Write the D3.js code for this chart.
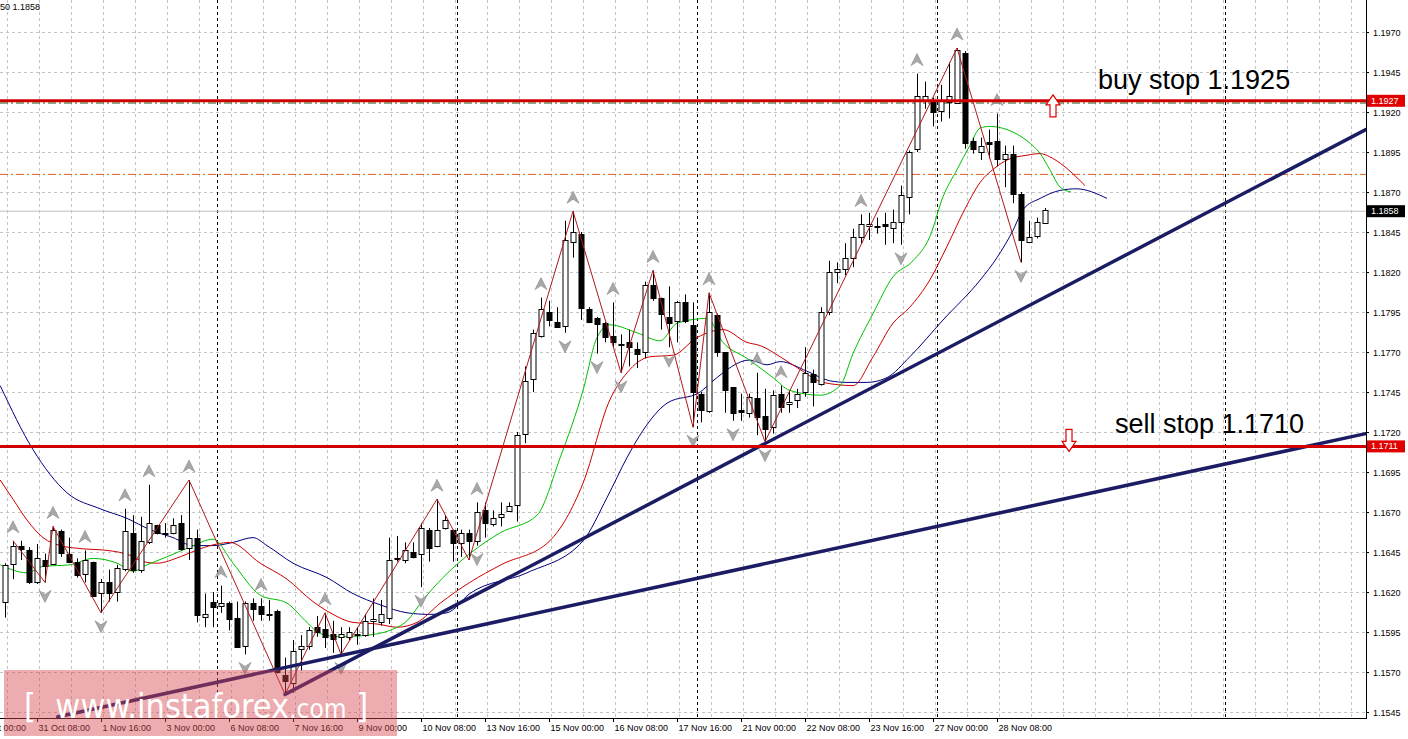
<!DOCTYPE html>
<html>
<head>
<meta charset="utf-8">
<script src="https://cdn.jsdelivr.net/npm/d3@7"></script>
<style>
  html, body { margin: 0; padding: 0; background: #fff; }
  svg { display: block; font-family: "Liberation Sans", Arial, sans-serif; }
</style>
</head>
<body>
<svg id="chart" width="1408" height="739"></svg>
<script>
// candle data (4h bars), index 0 = first visible bar
const opens = [1.1614,1.1638,1.1649,1.1646,1.1626,1.1640,1.1638,1.1658,1.1644,1.1639,1.1631,1.1639,1.1619,1.1626,1.1620,1.1634,1.1657,1.1634,1.1651,1.1662,
  1.1657,1.1657,1.1663,1.1648,1.1654,1.1604,1.1614,1.1611,1.1613,1.1604,1.1586,1.1613,1.1611,1.1606,1.1608,1.1568,1.1563,1.1584,1.1586,1.1598,
  1.1597,1.1594,1.1592,1.1592,1.1594,1.1593,1.1602,1.1601,1.1604,1.1641,1.1640,1.1645,1.1644,1.1659,1.1649,1.1660,1.1659,1.1651,1.1657,1.1652,
  1.1671,1.1662,1.1667,1.1671,1.1674,1.1719,1.1753,1.1780,1.1795,1.1789,1.1786,1.1839,1.1844,1.1797,1.1791,1.1788,1.1780,1.1775,1.1776,1.1772,
  1.1770,1.1812,1.1804,1.1792,1.1789,1.1801,1.1787,1.1744,1.1733,1.1793,1.1770,1.1748,1.1734,1.1732,1.1741,1.1730,1.1723,1.1744,1.1738,1.1740,
  1.1745,1.1756,1.1750,1.1795,1.1820,1.1822,1.1829,1.1842,1.1849,1.1849,1.1850,1.1847,1.1851,1.1867,1.1897,1.1927,1.1926,1.1921,1.1926,1.1926,
  1.1957,1.1902,1.1895,1.1901,1.1902,1.1891,1.1894,1.1869,1.1839,1.1842,1.1851];
const highs = [1.1638,1.1652,1.1652,1.1648,1.1650,1.1644,1.1661,1.1659,1.1654,1.1641,1.1646,1.1639,1.1628,1.1634,1.1637,1.1672,1.1668,1.1667,1.1687,1.1662,
  1.1663,1.1666,1.1668,1.1690,1.1659,1.1619,1.1620,1.1624,1.1614,1.1614,1.1614,1.1616,1.1616,1.1615,1.1609,1.1579,1.1590,1.1593,1.1598,1.1605,
  1.1607,1.1602,1.1598,1.1598,1.1598,1.1606,1.1616,1.1615,1.1654,1.1655,1.1651,1.1651,1.1663,1.1660,1.1678,1.1668,1.1659,1.1659,1.1659,1.1676,
  1.1676,1.1671,1.1676,1.1676,1.1720,1.1761,1.1784,1.1804,1.1802,1.1798,1.1852,1.1858,1.1845,1.1798,1.1792,1.1789,1.1801,1.1781,1.1784,1.1776,
  1.1814,1.1821,1.1804,1.1811,1.1802,1.1806,1.1801,1.1745,1.1807,1.1794,1.1770,1.1748,1.1744,1.1744,1.1757,1.1747,1.1746,1.1749,1.1746,1.1747,
  1.1773,1.1759,1.1798,1.1827,1.1826,1.1838,1.1847,1.1856,1.1857,1.1854,1.1857,1.1859,1.1874,1.1896,1.1944,1.1939,1.1929,1.1937,1.1951,1.1960,
  1.1958,1.1904,1.1904,1.1909,1.1919,1.1899,1.1899,1.1870,1.1852,1.1854,1.1860];
const lows = [1.1604,1.1628,1.1640,1.1625,1.1625,1.1626,1.1637,1.1642,1.1638,1.1629,1.1626,1.1617,1.1607,1.1614,1.1614,1.1633,1.1632,1.1632,1.1650,1.1656,
  1.1654,1.1656,1.1646,1.1640,1.1601,1.1598,1.1598,1.1607,1.1596,1.1585,1.1581,1.1602,1.1602,1.1602,1.1569,1.1556,1.1557,1.1571,1.1584,1.1592,
  1.1585,1.1582,1.1581,1.1590,1.1587,1.1592,1.1592,1.1599,1.1600,1.1639,1.1638,1.1641,1.1623,1.1639,1.1648,1.1659,1.1639,1.1642,1.1640,1.1649,
  1.1654,1.1661,1.1661,1.1670,1.1664,1.1713,1.1745,1.1779,1.1786,1.1785,1.1782,1.1829,1.1790,1.1788,1.1769,1.1776,1.1773,1.1757,1.1761,1.1760,
  1.1766,1.1802,1.1784,1.1773,1.1776,1.1788,1.1723,1.1726,1.1732,1.1767,1.1732,1.1727,1.1727,1.1729,1.1718,1.1714,1.1719,1.1732,1.1732,1.1735,
  1.1742,1.1736,1.1749,1.1793,1.1813,1.1818,1.1823,1.1838,1.1840,1.1844,1.1837,1.1838,1.1837,1.1856,1.1895,1.1922,1.1911,1.1914,1.1916,1.1925,
  1.1897,1.1894,1.1890,1.1891,1.1886,1.1873,1.1863,1.1826,1.1838,1.1841,1.1850];
const closes = [1.1637,1.1649,1.1647,1.1626,1.1641,1.1636,1.1659,1.1644,1.1639,1.1631,1.1640,1.1618,1.1626,1.1619,1.1635,1.1658,1.1634,1.1652,1.1663,1.1657,
  1.1657,1.1662,1.1647,1.1654,1.1606,1.1606,1.1611,1.1613,1.1603,1.1586,1.1613,1.1609,1.1606,1.1606,1.1570,1.1564,1.1583,1.1586,1.1596,1.1595,
  1.1592,1.1591,1.1594,1.1595,1.1594,1.1602,1.1603,1.1606,1.1640,1.1641,1.1646,1.1642,1.1660,1.1648,1.1659,1.1665,1.1651,1.1657,1.1652,1.1670,
  1.1663,1.1666,1.1669,1.1674,1.1718,1.1752,1.1782,1.1797,1.1790,1.1786,1.1840,1.1845,1.1798,1.1789,1.1787,1.1779,1.1776,1.1775,1.1773,1.1769,
  1.1812,1.1804,1.1794,1.1788,1.1801,1.1789,1.1745,1.1734,1.1795,1.1770,1.1746,1.1732,1.1733,1.1742,1.1729,1.1722,1.1743,1.1736,1.1739,1.1744,
  1.1757,1.1751,1.1795,1.1820,1.1822,1.1829,1.1842,1.1850,1.1850,1.1849,1.1849,1.1851,1.1868,1.1895,1.1930,1.1930,1.1920,1.1927,1.1930,1.1959,
  1.1901,1.1897,1.1899,1.1900,1.1891,1.1894,1.1869,1.1840,1.1842,1.1851,1.1859];

// indicator lines: [bar index, price]
const maGreen = [[-0.6,1.1637],[2.75,1.1632],[4.75,1.1636],[8.1,1.1637],[11,1.1641],[14,1.1638],[16,1.1633],[17.75,1.1637],[20.25,1.1642],[23.1,1.1648],
  [26,1.1653],[28.5,1.1638],[31.9,1.1618],[35.25,1.1613],[37.75,1.1601],[39.4,1.1594],[41.9,1.1592],[45.25,1.1593],[48.1,1.1596],[50.25,1.1602],
  [52.25,1.1615],[54.75,1.1629],[58.1,1.1644],[61.9,1.1657],[66.5,1.1668],[69.4,1.1704],[72.25,1.1746],[74,1.1779],[75.6,1.1787],[79,1.1782],
  [81.9,1.1777],[84,1.1788],[87.75,1.1791],[89.75,1.1776],[92.75,1.1766],[96,1.1754],[98.1,1.1746],[101.9,1.1743],[104.4,1.1749],[106,1.1769],
  [108.5,1.1794],[111,1.1817],[113.5,1.1827],[115.6,1.1842],[117.25,1.1867],[119,1.1884],[120.6,1.1899],[121.9,1.1910],[123.1,1.1911],[125.25,1.1909],
  [127.75,1.1902],[129.4,1.1894],[130.6,1.1884],[131.9,1.1873],[133.25,1.1870]];
const maRed = [[-0.6,1.1690],[1,1.1678],[2.75,1.1665],[4.75,1.1654],[6.9,1.1649],[9.75,1.1647],[12.75,1.1646],[15.6,1.1643],[17.25,1.1639],[19,1.1638],
  [21.9,1.1642],[24.4,1.1647],[26.5,1.1650],[28.1,1.1651],[31.9,1.1638],[35.25,1.1628],[38.5,1.1614],[41,1.1606],[43.5,1.1601],[46.5,1.1600],
  [49,1.1598],[51.5,1.1601],[54.4,1.1613],[58.1,1.1626],[62,1.1637],[68.1,1.1652],[72.25,1.1688],[75.6,1.1740],[77.75,1.1757],[80.6,1.1767],
  [83.5,1.1768],[86.5,1.1779],[89.75,1.1784],[92.75,1.1776],[94.4,1.1774],[96.9,1.1767],[99.4,1.1759],[102.25,1.1751],[106,1.1749],[108.5,1.1767],
  [111,1.1788],[113.1,1.1798],[115.6,1.1815],[117.75,1.1836],[119.75,1.1857],[121.9,1.1876],[124,1.1886],[125.25,1.1890],[127.75,1.1893],[129.4,1.1894],
  [130.6,1.1892],[131.9,1.1888],[135,1.1874]];
const maBlue = [[-0.6,1.1749],[3.5,1.1709],[7.75,1.1682],[11.9,1.1672],[15.25,1.1666],[18.1,1.1659],[21,1.1654],[23.5,1.1649],[26,1.1649],[28.5,1.1651],
  [31,1.1654],[32.75,1.1649],[36,1.1638],[40.25,1.1629],[43.5,1.1619],[46.9,1.1612],[50.25,1.1607],[53.1,1.1606],[55.25,1.1607],[58.1,1.1619],
  [65.25,1.1632],[72.25,1.1652],[75.25,1.1679],[77.75,1.1704],[79.75,1.1721],[82.75,1.1738],[86.9,1.1745],[88.5,1.1752],[93.1,1.1765],[95.25,1.1762],
  [96.9,1.1764],[100.25,1.1758],[103.1,1.1752],[105.25,1.1751],[107.75,1.1751],[110.25,1.1754],[113.1,1.1767],[117.25,1.1790],[121.9,1.1815],[124,1.1829],
  [126,1.1846],[127.25,1.1859],[129.4,1.1866],[131.9,1.1871],[133.9,1.1872],[137.75,1.1866]];

// zigzag turning points: [bar index, "h" | "l"]
const zigzag = [[1,"h"],[5,"l"],[6,"h"],[12,"l"],[23,"h"],[35,"l"],[40,"h"],[42,"l"],[54,"h"],[58,"l"],
  [71,"h"],[77,"l"],[81,"h"],[86,"l"],[88,"h"],[95,"l"],[119,"h"],[127,"l"]];
// fractals
const fractalUp = [1,6,10,15,18,23,27,32,40,54,59,67,71,76,81,88,94,97,107,114,119,124];
const fractalDown = [5,12,30,42,52,59,70,74,77,83,86,91,95,112,127];

// trend lines: [[bar, price],[bar, price]]
const trendLines = [[[35,1.1556],[170.1,1.1909]], [[6.6,1.1542],[170.1,1.1719]]];

// levels
const stopLevels = [1.1927, 1.1711];
const stopLabels = ["1.1927", "1.1711"];
const stopTexts = ["buy stop 1.1925", "sell stop 1.1710"];
const bidLevel = 1.1858;
const orangeLevel = 1.1881;
const greenLevel = 1.19256;

// axes
const priceTicks = [1.1545,1.1570,1.1595,1.1620,1.1645,1.1670,1.1695,1.1720,1.1745,1.1770,1.1795,1.1820,1.1845,1.1870,1.1895,1.1920,1.1945,1.1970];
const timeTickBars = [-4,4,12,20,28,36,44,52,60,68,76,84,92,100,108,116,124];
const timeLabels = ["30 Oct 00:00","31 Oct 08:00","1 Nov 16:00","3 Nov 00:00","6 Nov 08:00","7 Nov 16:00","9 Nov 00:00","10 Nov 08:00",
  "13 Nov 16:00","15 Nov 00:00","16 Nov 08:00","17 Nov 16:00","21 Nov 00:00","22 Nov 08:00","23 Nov 16:00","27 Nov 00:00","28 Nov 08:00"];
const separatorBars = [26.5, 56.5, 86.5, 116.5, 152.5];

const W = 1408, H = 739, plotR = 1366, plotB = 718;
const svg = d3.select("#chart");
const x = d3.scaleLinear().domain([0, 1]).range([5, 13]);
const y = d3.scaleLinear().domain([1.1545, 1.1970]).range([712, 32]);

const plot = svg.append("g");
plot.append("defs").append("clipPath").attr("id", "clip")
  .append("rect").attr("width", plotR).attr("height", plotB);
const g = plot.append("g").attr("clip-path", "url(#clip)");

// grid
const gridBars = d3.range(0, 43).map(k => 4 * k + 0.2);
g.selectAll(".vg").data(gridBars).join("line")
  .attr("x1", d => Math.round(x(d)) + 0.5).attr("x2", d => Math.round(x(d)) + 0.5)
  .attr("y1", 0).attr("y2", plotB)
  .attr("stroke", "#c4c4c4").attr("stroke-dasharray", "3,3");
g.selectAll(".hg").data(priceTicks).join("line")
  .attr("x1", 0).attr("x2", plotR)
  .attr("y1", d => Math.round(y(d)) + 0.5).attr("y2", d => Math.round(y(d)) + 0.5)
  .attr("stroke", "#c4c4c4").attr("stroke-dasharray", "3,3");
g.selectAll(".sep").data(separatorBars).join("line")
  .attr("x1", d => Math.round(x(d)) + 0.5).attr("x2", d => Math.round(x(d)) + 0.5)
  .attr("y1", 0).attr("y2", plotB)
  .attr("stroke", "#000").attr("stroke-dasharray", "3,3");

// level lines
g.append("line").attr("x1", 0).attr("x2", plotR).attr("y1", y(bidLevel)).attr("y2", y(bidLevel))
  .attr("stroke", "#c0c0c0");
g.append("line").attr("x1", 0).attr("x2", plotR).attr("y1", y(orangeLevel)).attr("y2", y(orangeLevel))
  .attr("stroke", "#e06020").attr("stroke-dasharray", "8,3,2,3");
g.append("line").attr("x1", 0).attr("x2", plotR).attr("y1", y(greenLevel)).attr("y2", y(greenLevel))
  .attr("stroke", "#206020").attr("stroke-dasharray", "8,3,2,3");

// moving averages
const maLine = d3.line().x(d => x(d[0])).y(d => y(d[1])).curve(d3.curveMonotoneX);
[[maBlue, "#000080"], [maRed, "#cc0000"], [maGreen, "#00c000"]].forEach(([data, col]) => {
  g.append("path").datum(data).attr("d", maLine).attr("fill", "none").attr("stroke", col).attr("stroke-width", 1);
});

// candles
const bars = d3.range(opens.length);
const cg = g.append("g");
cg.selectAll(".wick").data(bars).join("line")
  .attr("x1", i => Math.round(x(i)) + 0.5).attr("x2", i => Math.round(x(i)) + 0.5)
  .attr("y1", i => y(highs[i])).attr("y2", i => y(lows[i]))
  .attr("stroke", "#000");
cg.selectAll(".body").data(bars).join("rect")
  .attr("x", i => Math.round(x(i)) - 2)
  .attr("y", i => Math.round(y(Math.max(opens[i], closes[i]))) + 0.5)
  .attr("width", 5)
  .attr("height", i => Math.max(1, Math.round(Math.abs(y(opens[i]) - y(closes[i])))))
  .attr("fill", i => closes[i] >= opens[i] ? "#fff" : "#000")
  .attr("stroke", "#000");

// zigzag
const zz = zigzag.map(([i, t]) => [i, t === "h" ? highs[i] : lows[i]]);
g.append("path").datum(zz)
  .attr("d", d3.line().x(d => x(d[0])).y(d => y(d[1])))
  .attr("fill", "none").attr("stroke", "#b01818").attr("stroke-width", 1);

// fractal arrows
function arrow(sel, up) {
  const p = up ? "M0,-8 L6,4 L0,0 L-6,4 Z" : "M0,8 L6,-4 L0,0 L-6,-4 Z";
  sel.append("path").attr("d", p).attr("fill", "#a8a8a8").attr("stroke", "#888").attr("stroke-width", 0.6);
}
fractalUp.forEach(i => arrow(g.append("g").attr("transform", `translate(${x(i)},${y(highs[i]) - 12})`), true));
fractalDown.forEach(i => arrow(g.append("g").attr("transform", `translate(${x(i)},${y(lows[i]) + 12})`), false));

// trend lines
g.selectAll(".trend").data(trendLines).join("line")
  .attr("x1", d => x(d[0][0])).attr("y1", d => y(d[0][1]))
  .attr("x2", d => x(d[1][0])).attr("y2", d => y(d[1][1]))
  .attr("stroke", "#1c1c64").attr("stroke-width", 3.5).attr("stroke-linecap", "round");

// stop levels
g.selectAll(".stop").data(stopLevels).join("line")
  .attr("x1", 0).attr("x2", plotR).attr("y1", d => y(d)).attr("y2", d => y(d))
  .attr("stroke", "#d00000").attr("stroke-width", 3);

// outlined arrows at stop levels
const upArrow = "M0,-11 L7,-1 L3,-1 L3,11 L-3,11 L-3,-1 L-7,-1 Z";
const dnArrow = "M0,11 L7,1 L3,1 L3,-11 L-3,-11 L-3,1 L-7,1 Z";
g.append("path").attr("d", upArrow).attr("transform", `translate(1053,${y(stopLevels[0]) + 5})`)
  .attr("fill", "#fff").attr("stroke", "#e00000").attr("stroke-width", 1.2);
g.append("path").attr("d", dnArrow).attr("transform", `translate(1069,${y(stopLevels[1]) - 6})`)
  .attr("fill", "#fff").attr("stroke", "#e00000").attr("stroke-width", 1.2);

// annotation texts
g.append("text").attr("x", 1098).attr("y", y(stopLevels[0]) - 12).text(stopTexts[0])
  .attr("font-size", 27).attr("fill", "#000");
g.append("text").attr("x", 1115).attr("y", y(stopLevels[1]) - 13).text(stopTexts[1])
  .attr("font-size", 27).attr("fill", "#000");

// axes frame
svg.append("line").attr("x1", plotR + 0.5).attr("x2", plotR + 0.5).attr("y1", 0).attr("y2", plotB).attr("stroke", "#000");
svg.append("line").attr("x1", 0).attr("x2", plotR + 1).attr("y1", plotB + 0.5).attr("y2", plotB + 0.5).attr("stroke", "#000");

// price axis
const pa = svg.append("g").attr("font-size", 9);
priceTicks.forEach(p => {
  const yy = Math.round(y(p)) + 0.5;
  pa.append("line").attr("x1", plotR).attr("x2", plotR + 3).attr("y1", yy).attr("y2", yy).attr("stroke", "#000");
  pa.append("text").attr("x", 1373).attr("y", yy + 3).text(p.toFixed(4));
});
stopLevels.forEach((p, k) => {
  const yy = y(p);
  pa.append("rect").attr("x", 1367).attr("y", yy - 6).attr("width", 38).attr("height", 12).attr("fill", "#e00000");
  pa.append("text").attr("x", 1371).attr("y", yy + 3).text(stopLabels[k]).attr("fill", "#fff");
});
pa.append("rect").attr("x", 1367).attr("y", y(bidLevel) - 6).attr("width", 38).attr("height", 12).attr("fill", "#000");
pa.append("text").attr("x", 1371).attr("y", y(bidLevel) + 3).text(bidLevel.toFixed(4)).attr("fill", "#fff");

// time axis
const ta = svg.append("g").attr("font-size", 9);
timeTickBars.forEach((b, k) => {
  const xx = Math.round(x(b)) + 0.5;
  ta.append("line").attr("x1", xx).attr("x2", xx).attr("y1", plotB).attr("y2", plotB + 4).attr("stroke", "#000");
  ta.append("text").attr("x", xx + 1).attr("y", 731).text(timeLabels[k]);
});

// header
svg.append("text").attr("x", 0).attr("y", 10).attr("font-size", 9).text("50 1.1858");

// watermark
const wm = svg.append("g");
wm.append("rect").attr("x", 4).attr("y", 670).attr("width", 393).attr("height", 66)
  .attr("fill", "rgba(215,70,80,0.45)");
wm.append("text").attr("x", 24).attr("y", 718).attr("fill", "#fff").attr("font-size", 34)
  .attr("font-family", "'DejaVu Sans Condensed', 'Liberation Sans Narrow', sans-serif")
  .html('[ &#160;www.instaforex<tspan font-size="26">.com</tspan> ]');
</script>
</body>
</html>
